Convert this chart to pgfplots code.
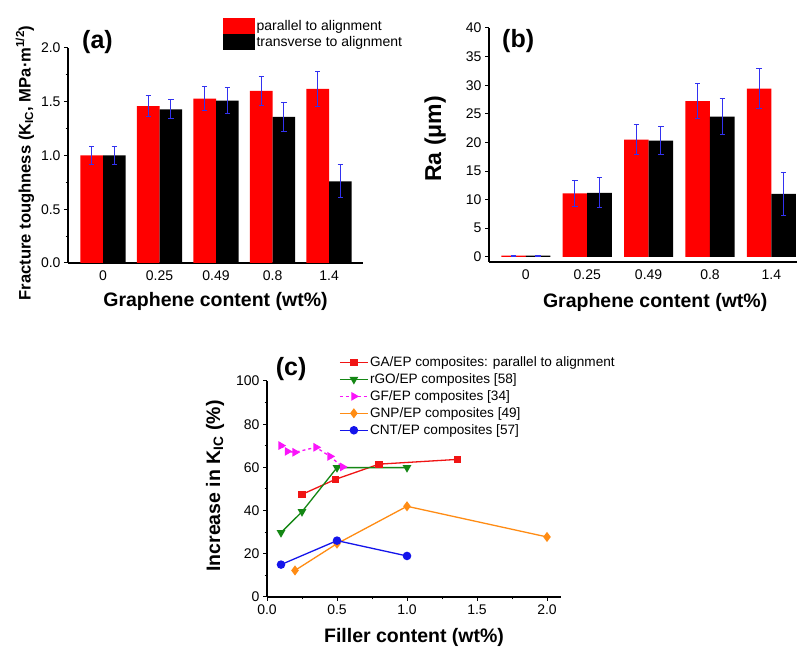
\documentclass[border=0pt]{standalone}
\usepackage{fontspec}
\setmainfont{Liberation Sans}
\usepackage{pgfplots}
\usepackage{pgfplotstable}
\pgfplotsset{compat=1.18}
\definecolor{errblue}{RGB}{50,50,240}
\definecolor{cred}{RGB}{240,20,20}
\definecolor{cgreen}{RGB}{20,135,20}
\definecolor{cmag}{RGB}{250,20,250}
\definecolor{corange}{RGB}{255,140,20}
\definecolor{cblue}{RGB}{20,20,235}
\pgfplotstableread{
x par parerr tra traerr
0 1.00 0.085 1.00 0.085
1 1.46 0.10  1.43 0.09
2 1.53 0.11  1.51 0.12
3 1.60 0.135 1.36 0.136
4 1.62 0.16  0.76 0.155
}\tabA
\pgfplotstableread{
x par parerr tra traerr
0 0.2  0.1  0.2  0.1
1 11.1 2.25 11.2 2.6
2 20.5 2.55 20.3 2.4
3 27.2 3.1  24.5 3.1
4 29.4 3.5  11.0 3.7
}\tabB
\begin{document}
\begin{tikzpicture}
\path[use as bounding box, fill=white] (0pt,0pt) rectangle (797pt,647pt);
\pgfplotsset{
 common/.style={scale only axis, axis x line*=bottom, axis y line*=left,
  tick align=outside,
  tick label style={font=\fontsize{14}{16}\selectfont},
  /pgf/number format/assume math mode=true,
  label style={font=\bfseries\fontsize{19.5}{22}\selectfont},
  clip=false, axis line style={line width=1.1pt},
  major tick length=4pt, minor tick length=2.5pt,
  every tick/.style={line width=1pt,black}},
 barax/.style={common, ybar, xtick={0,1,2,3,4}, xticklabels={0,0.25,0.49,0.8,1.4},
  xtick style={draw=none},
  legend image code/.code={\fill[##1] (0pt,-8pt) rectangle (32pt,8pt);}},
 ebar/.style={forget plot, fill=none, draw=none, bar width=0.4,
  error bars/y dir=both, error bars/y explicit,
  error bars/error bar style={errblue, line width=1pt},
  error bars/error mark=-,
  error bars/error mark options={errblue, line width=1pt, mark size=2.7pt, rotate=90}},
 lineleg/.style={legend image code/.code={\draw[mark repeat=2,mark phase=2,##1] plot coordinates {(0pt,0pt) (14pt,0pt) (28pt,0pt)};}},
}
% ---------------- (a)
\begin{axis}[barax, at={(68pt,384pt)}, anchor=south west, width=295pt, height=215pt,
  xmin=-0.62, xmax=4.6, ymin=0, ymax=2,
  ytick={0,0.5,1,1.5,2}, minor y tick num=1,
  yticklabel style={/pgf/number format/.cd, fixed, fixed zerofill, precision=1},
  ylabel={Fracture toughness (K\textsubscript{IC}, MPa·m\textsuperscript{1/2})},
  ylabel style={at={(axis description cs:-0.146,0.465)}, anchor=center, font=\bfseries\fontsize{16.6}{18}\selectfont},
  xlabel={Graphene content (wt\%)},
  xlabel style={at={(axis description cs:0.5,-0.18)}, anchor=center},
  legend style={at={(axis description cs:0.525,1.14)}, anchor=north west, draw=none, fill=none,
    font=\fontsize{14}{16}\selectfont, row sep=0pt, inner sep=0pt, nodes={inner sep=1.5pt}},
  legend cell align=left]
\addplot[fill=red, draw=none, bar width=0.4, bar shift=-0.2] table[x=x, y=par] {\tabA};
\addplot[fill=black, draw=none, bar width=0.4, bar shift=0.2] table[x=x, y=tra] {\tabA};
\addplot[ebar, bar shift=-0.2] table[x=x, y=par, y error=parerr] {\tabA};
\addplot[ebar, bar shift=0.2] table[x=x, y=tra, y error=traerr] {\tabA};
\legend{parallel to alignment, transverse to alignment}
\node[font=\bfseries\fontsize{25}{28}\selectfont] at (axis description cs:0.10,1.028) {(a)};
\end{axis}
% ---------------- (b)
\begin{axis}[barax, at={(489pt,385pt)}, anchor=south west, width=310pt, height=234pt,
  xmin=-0.6, xmax=4.45, ymin=-0.9, ymax=40,
  ytick={0,5,...,40},
  ylabel={Ra (μm)},
  ylabel style={at={(axis description cs:-0.174,0.526)}, anchor=center, font=\bfseries\fontsize{23}{26}\selectfont},
  xlabel={Graphene content (wt\%)},
  xlabel style={at={(axis description cs:0.536,-0.171)}, anchor=center}]
\addplot[fill=red, draw=none, bar width=0.4, bar shift=-0.2] table[x=x, y=par] {\tabB};
\addplot[fill=black, draw=none, bar width=0.4, bar shift=0.2] table[x=x, y=tra] {\tabB};
\addplot[ebar, bar shift=-0.2] table[x=x, y=par, y error=parerr] {\tabB};
\addplot[ebar, bar shift=0.2] table[x=x, y=tra, y error=traerr] {\tabB};
\node[font=\bfseries\fontsize{25}{28}\selectfont] at (axis description cs:0.094,0.944) {(b)};
\end{axis}
% ---------------- (c)
\begin{axis}[common, lineleg, at={(267pt,50pt)}, anchor=south west, width=294pt, height=216pt,
  xmin=0, xmax=2.1, ymin=0, ymax=100,
  xtick={0,0.5,1,1.5,2}, minor x tick num=1,
  ytick={0,20,40,60,80,100}, minor y tick num=1,
  xticklabel style={/pgf/number format/.cd, fixed, fixed zerofill, precision=1},
  ylabel={Increase in K\textsubscript{IC} (\%)},
  ylabel style={at={(axis description cs:-0.177,0.514)}, anchor=center},
  xlabel={Filler content (wt\%)},
  xlabel style={at={(axis description cs:0.5,-0.185)}, anchor=center},
  legend style={at={(axis description cs:0.245,1.12)}, anchor=north west, draw=none, fill=none,
    font=\fontsize{13.6}{15}\selectfont, row sep=2.6pt, inner sep=0pt, nodes={inner sep=1.5pt}},
  legend cell align=left]
\addplot[cred, line width=1.3pt, mark=square*, mark size=3pt, mark options={solid}] coordinates {(0.25,47.5) (0.49,54.5) (0.8,61.5) (1.36,63.7)};
\addplot[cgreen, line width=1.3pt, mark=triangle*, mark size=3.8pt, mark options={rotate=180,solid}] coordinates {(0.1,29.8) (0.25,39.5) (0.5,59.9) (1.0,59.9)};
\addplot[cmag, line width=1.3pt, dashed, mark=triangle*, mark size=3.8pt, mark options={rotate=-90,solid}] coordinates {(0.1,70.1) (0.145,67.4) (0.2,67.0) (0.35,69.3) (0.45,65.1) (0.54,60.2)};
\addplot[corange, line width=1.3pt, mark=diamond*, mark size=4pt, mark options={solid}] coordinates {(0.2,12.3) (0.5,24.7) (1.0,42.0) (2.0,27.8)};
\addplot[cblue, line width=1.3pt, mark=*, mark size=3.6pt, mark options={solid}] coordinates {(0.1,15.0) (0.5,26.1) (1.0,19.0)};
\legend{GA/EP composites: parallel to alignment, rGO/EP composites [58], GF/EP composites [34], GNP/EP composites [49], CNT/EP composites [57]}
\node[font=\bfseries\fontsize{25}{28}\selectfont] at (axis description cs:0.082,1.056) {(c)};
\end{axis}
\end{tikzpicture}
\end{document}
